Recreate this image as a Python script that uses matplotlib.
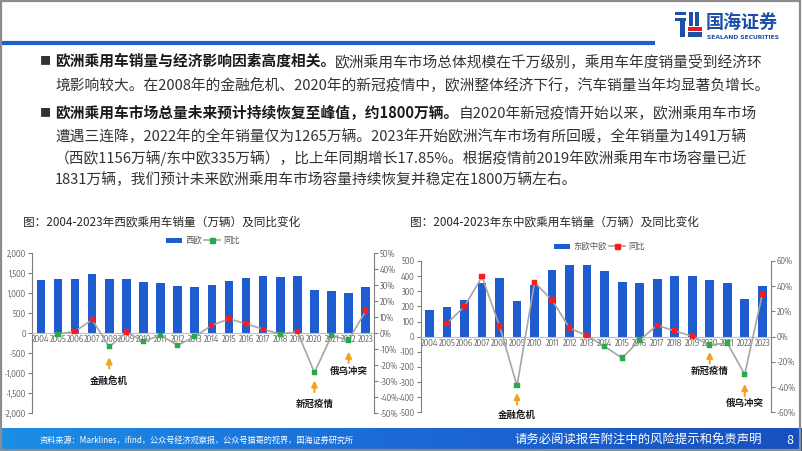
import numpy as np
import matplotlib
matplotlib.use('Agg')
import matplotlib.pyplot as plt
from matplotlib import font_manager as fm
from matplotlib.patches import Rectangle
from matplotlib.ticker import FuncFormatter, MultipleLocator
from matplotlib.colors import LinearSegmentedColormap

plt.rcParams['font.family'] = ['Noto Sans CJK SC', 'DejaVu Sans']

# ---------------- data ----------------
years = [str(y) for y in range(2004, 2024)]
west_sales = [1340, 1345, 1360, 1470, 1345, 1350, 1280, 1265, 1170, 1145,
              1205, 1310, 1385, 1420, 1415, 1430, 1075, 1050, 1005, 1156]
west_yoy = [np.nan, -0.5, 1.2, 8.5, -8.5, 0.8, -5.0, -1.2, -7.5, -2.0,
            5.0, 9.0, 6.0, 2.5, -0.5, 1.0, -24.5, -1.5, -4.2, 14.0]
east_sales = [175, 193, 242, 357, 387, 237, 342, 440, 471, 475,
              435, 362, 353, 384, 402, 402, 375, 357, 251, 335]
east_yoy = [np.nan, 10.5, 24.0, 47.5, 8.5, -39.0, 43.0, 29.0, 6.8, 0.8,
            -7.8, -17.0, -2.7, 9.0, 4.6, 0.3, -6.7, -5.0, -30.0, 33.5]
west_events = {'金融危机': 2008, '新冠疫情': 2020, '俄乌冲突': 2022}
east_events = {'金融危机': 2009, '新冠疫情': 2020, '俄乌冲突': 2022}

BAR = '#1F5CCF'
RED = '#FF1A1A'
GREEN = '#2BA84A'
LINE = '#A6A6A6'
ORANGE = '#F5A020'
TICK = '#595959'

# narrow font for numbers if available
NUMF, NUMS = ['Liberation Sans', 'DejaVu Sans'], 5.3
for f in fm.fontManager.ttflist:
    if ('Narrow' in f.name or 'Condensed' in f.name) and 'Sans' in f.name:
        NUMF, NUMS = [f.name, 'DejaVu Sans'], 6.1
        break

W, H = 802, 451
fig = plt.figure(figsize=(W / 100, H / 100), dpi=100)

bg = fig.add_axes([0, 0, 1, 1])
bg.axis('off')

# footer gradient
cmap = LinearSegmentedColormap.from_list('f', ['#1C8EE6', '#1B6AD6', '#1750BE'])
grad = np.linspace(0, 1, 256).reshape(1, -1)
bg.imshow(grad, cmap=cmap, extent=(0, W, 451, 428), aspect='auto', zorder=1)
bg.set_xlim(0, W)
bg.set_ylim(H, 0)

# frame
bg.add_patch(Rectangle((0.8, 0.8), W - 2.6, H - 1.6, fill=False, ec='#8C8C8C', lw=1.6, zorder=5))

# top rule
bg.plot([0, 655], [43, 43], color='#1D5FCB', lw=3, solid_capstyle='butt')

# logo
for (x0, y0, x1, y1, c) in [(675, 12, 686, 15, '#1D4FA8'), (675, 18, 686, 21, '#1D4FA8'),
                             (680, 21, 685, 37, '#1D4FA8'), (689, 12, 693, 26, '#1D4FA8'),
                             (695, 12, 699, 26, '#1D4FA8'), (688, 27, 702, 31, '#E02020'),
                             (688, 32, 702, 37, '#1D4FA8')]:
    bg.add_patch(Rectangle((x0, y0), x1 - x0, y1 - y0, color=c, lw=0))
bg.text(706, 22, '国海证券', fontsize=13, color='#1D4FA8', weight='bold', va='center', ha='left')
bg.text(707, 37.5, 'SEALAND SECURITIES', fontsize=4.3, color='#1D4FA8', weight='bold',
        va='center', ha='left', family=['DejaVu Sans'])

# body text
BS = 10.6
def mixed(y, bold, normal):
    t1 = bg.text(55, y, bold, fontsize=BS, weight='bold', color='#1A1A1A', va='center', ha='left')
    bg.annotate(normal, xy=(1, 0), xycoords=t1, fontsize=BS, color='#333333', va='bottom', ha='left')

def plain(y, s):
    bg.text(55, y, s, fontsize=BS, color='#333333', va='center', ha='left')

bg.text(40, 61, '■', fontsize=8, color='#333333', va='center', ha='left')
mixed(61, '欧洲乘用车销量与经济影响因素高度相关。', '欧洲乘用车市场总体规模在千万级别，乘用车年度销量受到经济环')
plain(85, '境影响较大。在2008年的金融危机、2020年的新冠疫情中，欧洲整体经济下行，汽车销量当年均显著负增长。')
bg.text(40, 113, '■', fontsize=8, color='#333333', va='center', ha='left')
mixed(113, '欧洲乘用车市场总量未来预计持续恢复至峰值，约1800万辆。', '自2020年新冠疫情开始以来，欧洲乘用车市场')
plain(137, '遭遇三连降，2022年的全年销量仅为1265万辆。2023年开始欧洲汽车市场有所回暖，全年销量为1491万辆')
plain(158, '（西欧1156万辆/东中欧335万辆），比上年同期增长17.85%。根据疫情前2019年欧洲乘用车市场容量已近')
plain(180, '1831万辆，我们预计未来欧洲乘用车市场容量持续恢复并稳定在1800万辆左右。')

# chart titles
bg.text(23, 222, '图：2004-2023年西欧乘用车销量（万辆）及同比变化', fontsize=8.4, color='#262626', va='center')
bg.text(410, 222, '图：2004-2023年东中欧乘用车销量（万辆）及同比变化', fontsize=8.4, color='#262626', va='center')

# legends (manual)
def legend(x, y, name, mcolor):
    bg.add_patch(Rectangle((x, y - 2.5), 16, 5, color=BAR, lw=0))
    t = bg.text(x + 19, y, name, fontsize=6, color=TICK, va='center', ha='left')
    fig.canvas.draw()
    bb = t.get_window_extent().transformed(bg.transData.inverted())
    lx = max(bb.x0, bb.x1) + 2.5
    bg.plot([lx, lx + 16], [y, y], color=LINE, lw=1.2)
    bg.plot([lx + 8], [y], marker='s', ms=3.6, color=mcolor, mec=mcolor)
    bg.text(lx + 19, y, '同比', fontsize=6, color=TICK, va='center', ha='left')

legend(166, 240, '西欧', GREEN)
legend(554, 246, '东欧中欧', RED)

# footer text
bg.text(40, 440, '资料来源：Marklines，ifind，公众号经济观察报，公众号猫哥的视界，国海证券研究所',
        fontsize=5.9, color='white', va='center', ha='left', zorder=3)
bg.text(514, 440, '请务必阅读报告附注中的风险提示和免责声明', fontsize=8.9, color='white',
        va='center', ha='left', zorder=3)
bg.text(790, 440, '8', fontsize=9, color='white', va='center', ha='center', zorder=3)


def px_axes(x0, x1, ytop, ybot):
    return fig.add_axes([x0 / W, 1 - ybot / H, (x1 - x0) / W, (ybot - ytop) / H])


def make_chart(rect, sales, yoy, ylim, ystep, plim, pstep, events, ev_pos):
    ax = px_axes(*rect)
    x = np.arange(len(years))
    ax.bar(x, sales, width=0.5, color=BAR, zorder=1)
    ax.set_xlim(-0.5, len(years) - 0.5)
    ax.set_ylim(-ylim, ylim)
    ax.yaxis.set_major_locator(MultipleLocator(ystep))
    ax.yaxis.set_major_formatter(FuncFormatter(lambda v, p: f'{v:,.0f}'))
    ax.spines['top'].set_visible(False)
    ax.spines['right'].set_visible(False)
    ax.spines['left'].set_color('#7F7F7F')
    ax.spines['bottom'].set_position(('data', 0))
    ax.spines['bottom'].set_color('#BFBFBF')
    ax.set_xticks(x)
    ax.set_xticklabels(years)
    ax.tick_params(axis='x', length=0, pad=1.5, labelsize=NUMS, labelcolor=TICK)
    ax.tick_params(axis='y', length=3, width=0.8, color='#7F7F7F', pad=1.5,
                   labelsize=NUMS, labelcolor=TICK)
    for lab in ax.get_xticklabels() + ax.get_yticklabels():
        lab.set_family(NUMF)

    ax2 = ax.twinx()
    ax2.set_ylim(-plim, plim)
    ax2.yaxis.set_major_locator(MultipleLocator(pstep))
    ax2.yaxis.set_major_formatter(FuncFormatter(lambda v, p: f'{v:.0f}%'))
    for s in ['top', 'left', 'bottom']:
        ax2.spines[s].set_visible(False)
    ax2.spines['right'].set_color('#7F7F7F')
    ax2.tick_params(axis='y', length=3, width=0.8, color='#7F7F7F', pad=1.0,
                    labelsize=NUMS, labelcolor=TICK)
    for lab in ax2.get_yticklabels():
        lab.set_family(NUMF)
    yv = np.array(yoy, dtype=float)
    ax2.plot(x, yv, color=LINE, lw=1.2, zorder=2)
    cols = [RED if v > 0 else GREEN for v in np.nan_to_num(yv)]
    ax2.scatter(x, yv, marker='s', s=14, c=cols, edgecolors=cols, linewidths=0.3, zorder=3)

    for name, yr in events.items():
        xi = years.index(str(yr))
        tip, tail, lab = ev_pos[name]
        ax.annotate('', xy=(xi, tip), xytext=(xi, tail),
                    arrowprops=dict(arrowstyle='-|>,head_length=0.45,head_width=0.22',
                                    color=ORANGE, lw=1.4, shrinkA=0, shrinkB=0,
                                    mutation_scale=8),
                    annotation_clip=False)
        ax.text(xi, lab, name, fontsize=6.8, weight='bold', color='#1A1A1A',
                ha='center', va='center', clip_on=False)
    return ax, ax2


make_chart((32.3, 374.3, 253.3, 413.3), west_sales, west_yoy, 2000, 500, 50, 10,
           west_events,
           {'金融危机': (-600, -880, -1200), '新冠疫情': (-1180, -1470, -1770),
            '俄乌冲突': (-460, -740, -950)})
make_chart((420.7, 771, 261, 412.3), east_sales, east_yoy, 500, 100, 60, 20,
           east_events,
           {'金融危机': (-372, -450, -515), '新冠疫情': (-100, -178, -228),
            '俄乌冲突': (-313, -395, -437)})

fig.savefig('out.png', dpi=100)
